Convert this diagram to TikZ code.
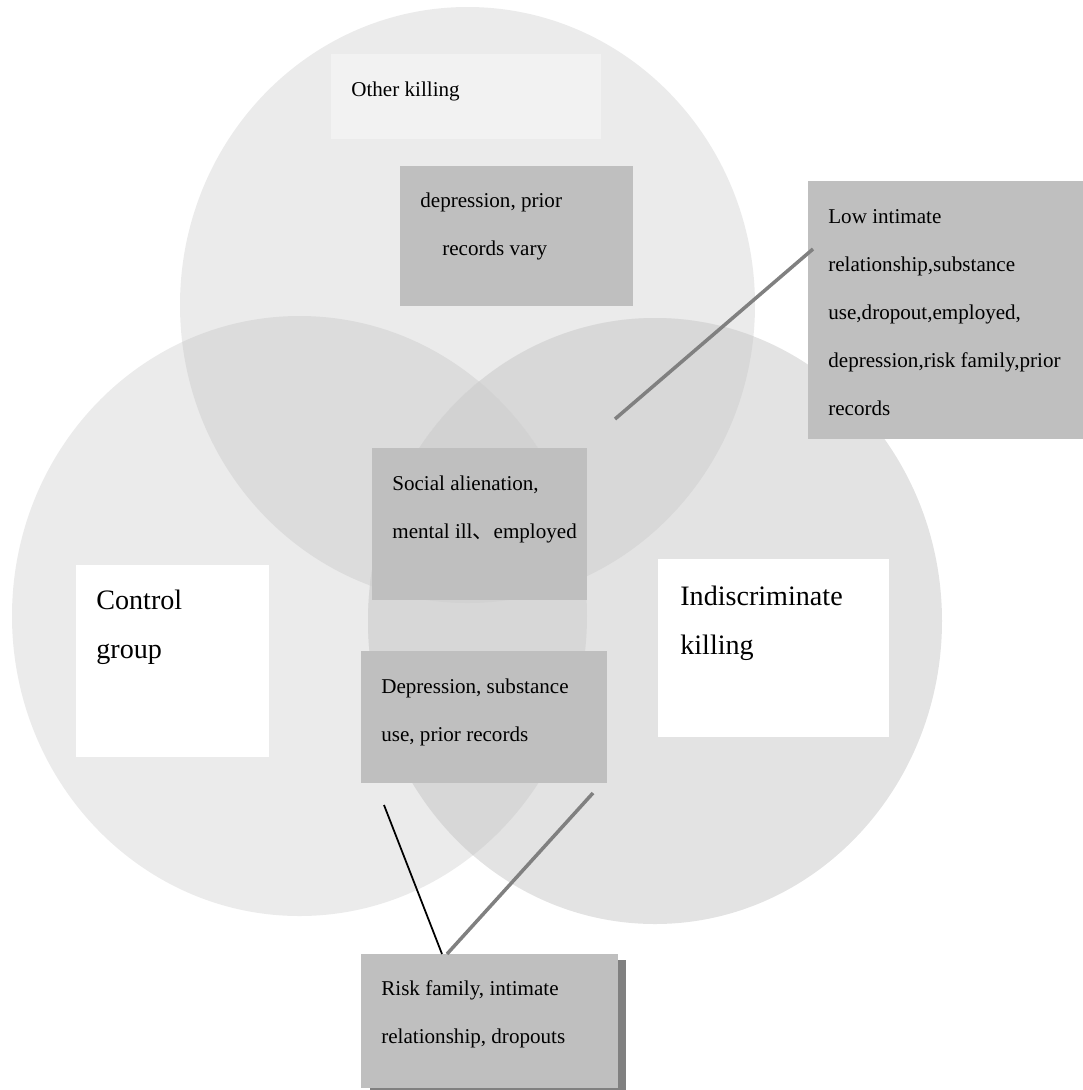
\documentclass[tikz,border=0pt]{standalone}
\usepackage{fontspec}
\setmainfont{Liberation Serif}
\newfontfamily\cjk{Noto Sans CJK SC}
\usetikzlibrary{shadows}
\definecolor{ringlight}{HTML}{EBEBEB}
\definecolor{ringright}{HTML}{E3E3E3}
\definecolor{ringtl}{HTML}{DCDCDC}
\definecolor{ringtr}{HTML}{D8D8D8}
\definecolor{ringlr}{HTML}{D7D7D7}
\definecolor{ringall}{HTML}{D2D2D2}
\definecolor{boxgray}{HTML}{BFBFBF}
\definecolor{boxpale}{HTML}{F2F2F2}
\definecolor{linkgray}{HTML}{808080}
\newcommand{\topring}{(467.5,305) ellipse [x radius=287.5, y radius=298]}
\newcommand{\leftring}{(299.5,616) ellipse [x radius=287.5, y radius=300]}
\newcommand{\rightring}{(655,621) ellipse [x radius=287, y radius=303]}
\begin{document}
\begin{tikzpicture}[x=0.02cm,y=-0.02cm,
    box/.style={anchor=north west,inner sep=0pt,outer sep=0pt,fill=boxgray},
    txt/.style={anchor=base west,inner sep=0pt,align=left,font=\fontsize{12}{27.2}\selectfont},
    bigtxt/.style={txt,font=\fontsize{16}{27.8}\selectfont},
    link/.style={linkgray,line width=2pt}]
                \useasboundingbox (0,0) rectangle (1083,1090);

                \fill[ringlight] \topring;
                \fill[ringlight] \leftring;
                \fill[ringright] \rightring;
                \begin{scope} \clip \topring; \fill[ringtl] \leftring; \end{scope}
                \begin{scope} \clip \topring; \fill[ringtr] \rightring; \end{scope}
                \begin{scope} \clip \leftring; \fill[ringlr] \rightring; \end{scope}
                \begin{scope} \clip \topring; \clip \leftring; \fill[ringall] \rightring; \end{scope}

                % text nodes sit on the baseline of their last line
                \node[box,fill=boxpale,minimum width=5.4cm,minimum height=1.7cm] (otherbox) at (331,54) {};
                \node[txt] (othertxt) at ([shift={(20,42)}]otherbox.north west) {Other killing};

                \node[box,minimum width=4.66cm,minimum height=2.8cm] (priorbox) at (400,166) {};
                \node[txt] (priortxt) at ([shift={(20,89)}]priorbox.north west) {depression, prior\\\hspace*{12.5pt}records vary};

                \node[box,minimum width=5.5cm,minimum height=5.16cm] (lowbox) at (808,181) {};
                \node[txt] (lowtxt) at ([shift={(20,234)}]lowbox.north west)
                    {Low intimate\\relationship,substance\\use,dropout,employed,\\depression,risk family,prior\\records};

                \node[box,minimum width=4.3cm,minimum height=3.04cm] (socialbox) at (372,448) {};
                \node[txt] (socialtxt) at ([shift={(20,90)}]socialbox.north west) {Social alienation,\\mental ill{\cjk 、}employed};

                \node[box,fill=white,minimum width=3.86cm,minimum height=3.84cm] (controlbox) at (76,565) {};
                \node[bigtxt] (controltxt) at ([shift={(20,93)}]controlbox.north west) {Control\\group};

                \node[box,fill=white,minimum width=4.62cm,minimum height=3.56cm] (indisbox) at (658,559) {};
                \node[bigtxt] (indistxt) at ([shift={(22,95)}]indisbox.north west) {Indiscriminate\\killing};

                \node[box,minimum width=4.92cm,minimum height=2.64cm] (subbox) at (361,651) {};
                \node[txt] (subtxt) at ([shift={(20,90)}]subbox.north west) {Depression, substance\\use, prior records};

                \node[box,minimum width=5.14cm,minimum height=2.68cm,
                    drop shadow={fill=linkgray,opacity=1,shadow xshift=0.17cm,shadow yshift=-0.12cm}] (riskbox) at (361,954) {};
                \node[txt] (risktxt) at ([shift={(20,89)}]riskbox.north west) {Risk family, intimate\\relationship, dropouts};

                \coordinate (lowfoot) at (615,419);
                \coordinate (blackfoot) at (384,805);
                \coordinate (grayfoot) at (593,793);

                \draw[link] (lowfoot) -- ([shift={(5,68)}]lowbox.north west);
                \draw[black,line width=1pt] (blackfoot) -- ([shift={(81,0)}]riskbox.north west);
                \draw[link] (grayfoot) -- ([shift={(86,0)}]riskbox.north west);
            \end{tikzpicture}
\end{document}
